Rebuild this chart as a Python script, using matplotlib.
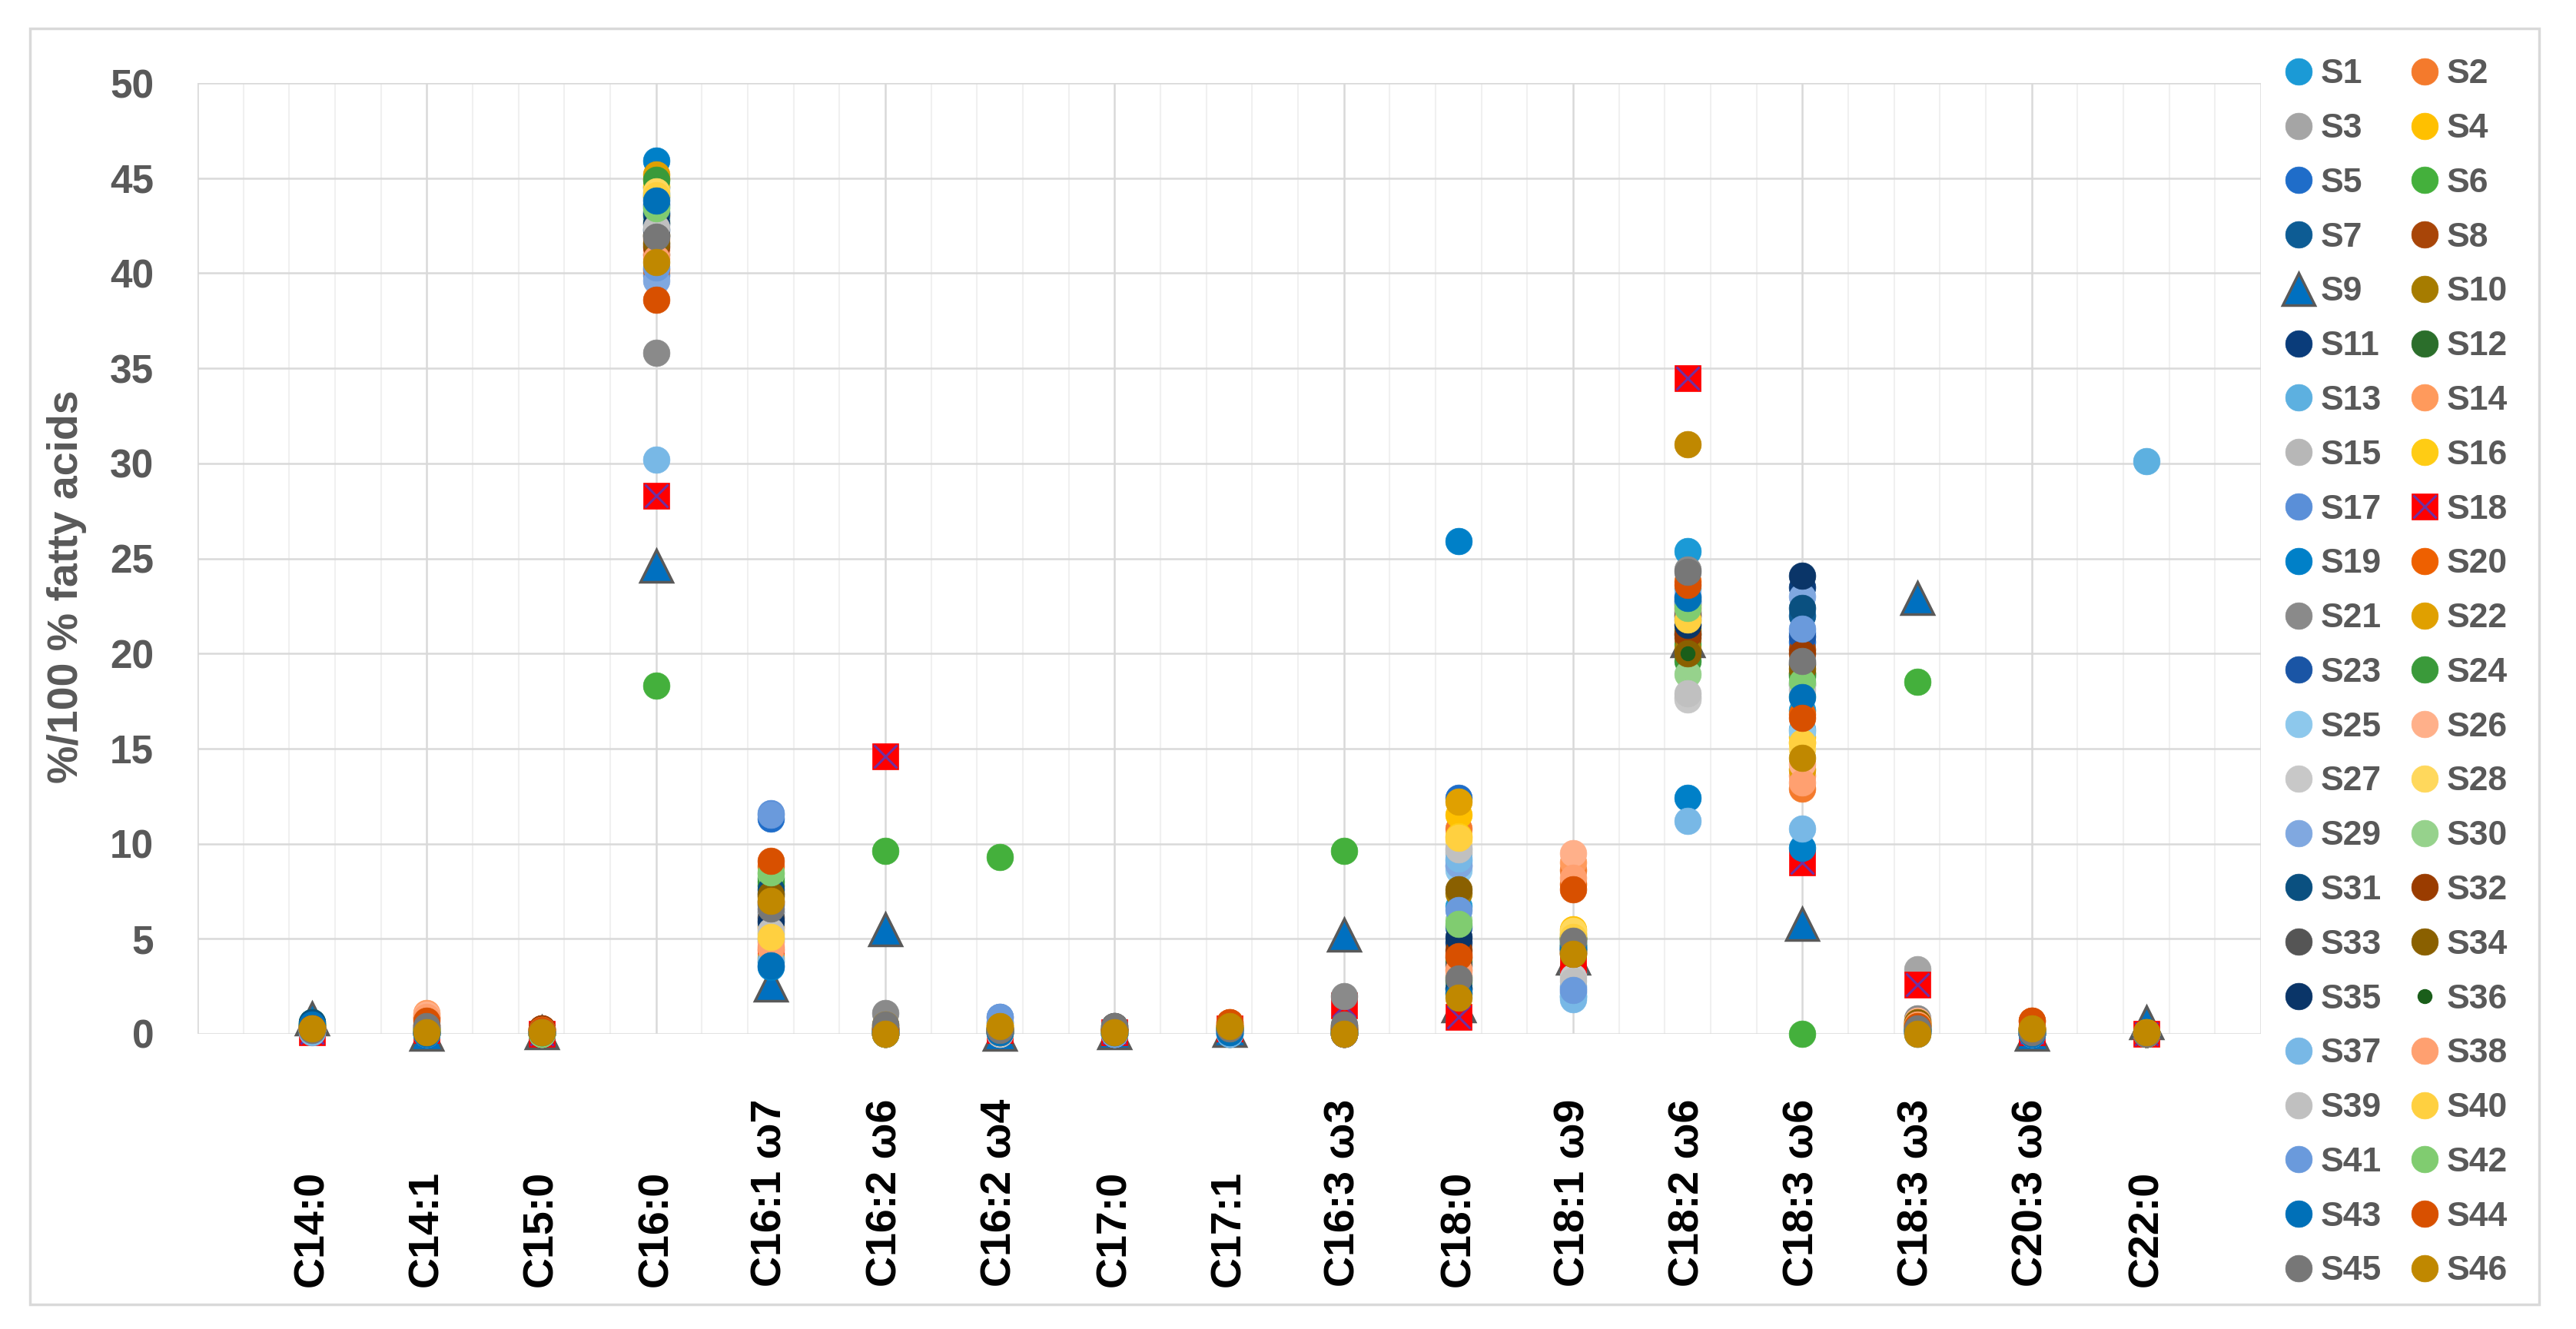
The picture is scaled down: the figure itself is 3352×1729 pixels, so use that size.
import matplotlib
matplotlib.use('Agg')
import matplotlib.pyplot as plt
import matplotlib.patches as mpatches
from matplotlib.legend_handler import HandlerTuple
import numpy as np

plt.rcParams['font.family'] = ['Liberation Sans', 'DejaVu Sans']

categories = ['C14:0', 'C14:1', 'C15:0', 'C16:0', 'C16:1 ω7', 'C16:2 ω6', 'C16:2 ω4',
              'C17:0', 'C17:1', 'C16:3 ω3', 'C18:0', 'C18:1 ω9', 'C18:2 ω6',
              'C18:3 ω6', 'C18:3 ω3', 'C20:3 ω6', 'C22:0']

series_names = ['S%d' % i for i in range(1, 47)]

# one list per fatty acid, values for S1..S46 (10 per row)
c14_0 = [0.2, 0.3, 0.4, 0.2, 0.3, 0.5, 0.4, 0.3, 0.8, 0.2,
         0.3, 0.5, 0.2, 0.4, 0.3, 0.2, 0.3, 0.1, 0.2, 0.4,
         0.3, 0.2, 0.3, 0.6, 0.2, 0.4, 0.3, 0.2, 0.3, 0.5,
         0.6, 0.3, 0.2, 0.4, 0.3, 0.2, 0.1, 0.3, 0.2, 0.3,
         0.2, 0.4, 0.5, 0.3, 0.2, 0.3]
c14_1 = [0.1, 0.9, 0.3, 0.2, 0.0, 0.1, 0.2, 0.4, 0.0, 0.2,
         0.1, 0.3, 0.0, 1.1, 0.2, 0.1, 0.0, 0.2, 0.0, 0.8,
         0.4, 0.3, 0.1, 0.2, 0.0, 1.0, 0.2, 0.3, 0.1, 0.2,
         0.0, 0.5, 0.3, 0.2, 0.1, 0.0, 0.0, 0.9, 0.2, 0.3,
         0.1, 0.2, 0.0, 0.7, 0.4, 0.1]
c15_0 = [0.1, 0.2, 0.1, 0.0, 0.1, 0.0, 0.1, 0.3, 0.1, 0.2,
         0.0, 0.1, 0.1, 0.2, 0.0, 0.1, 0.0, 0.0, 0.1, 0.2,
         0.1, 0.0, 0.1, 0.0, 0.1, 0.2, 0.0, 0.1, 0.0, 0.1,
         0.0, 0.3, 0.1, 0.2, 0.0, 0.1, 0.0, 0.2, 0.1, 0.0,
         0.1, 0.0, 0.1, 0.2, 0.1, 0.1]
c16_0 = [44.2, 43.0, 41.5, 45.0, 44.5, 18.3, 43.2, 41.0, 24.6, 42.0,
         42.3, 44.0, 43.5, 41.8, 42.8, 44.6, 39.9, 28.3, 45.9, 40.2,
         35.8, 45.2, 43.6, 44.9, 42.9, 41.2, 43.9, 44.3, 39.6, 42.7,
         43.1, 41.4, 42.0, 41.6, 42.6, 43.0, 30.2, 40.8, 42.4, 44.1,
         40.3, 43.4, 43.8, 38.6, 41.9, 40.6]
c16_1w7 = [3.8, 4.4, 6.0, 5.0, 11.3, 8.2, 6.8, 5.6, 2.6, 7.2,
           6.4, 7.8, 4.9, 4.6, 5.8, 5.3, 11.6, 4.2, 3.5, 8.8,
           6.2, 4.0, 7.4, 8.0, 5.2, 4.8, 6.5, 5.5, 7.0, 8.4,
           7.6, 6.9, 6.1, 7.3, 5.9, 6.7, 3.9, 4.5, 5.4, 5.1,
           11.5, 8.5, 3.6, 9.1, 6.6, 7.0]
c16_2w6 = [0.1, 0.2, 0.3, 0.0, 0.1, 9.6, 0.2, 0.0, 5.5, 0.3,
           0.0, 0.1, 0.2, 0.0, 0.3, 0.1, 0.0, 14.6, 0.2, 0.0,
           1.1, 0.5, 0.0, 0.2, 0.1, 0.0, 0.3, 0.2, 0.0, 0.1,
           0.2, 0.0, 0.4, 0.3, 0.1, 0.0, 0.2, 0.1, 0.0, 0.3,
           0.2, 0.0, 0.1, 0.3, 0.5, 0.0]
c16_2w4 = [0.3, 0.2, 0.1, 0.4, 0.6, 9.3, 0.2, 0.1, 0.0, 0.3,
           0.2, 0.1, 0.3, 0.2, 0.0, 0.4, 0.9, 0.2, 0.1, 0.3,
           0.2, 0.5, 0.1, 0.2, 0.3, 0.1, 0.0, 0.4, 0.6, 0.2,
           0.1, 0.2, 0.3, 0.1, 0.2, 0.0, 0.3, 0.2, 0.1, 0.4,
           0.9, 0.2, 0.1, 0.3, 0.2, 0.4]
c17_0 = [0.1, 0.2, 0.3, 0.1, 0.0, 0.2, 0.1, 0.2, 0.1, 0.3,
         0.1, 0.2, 0.0, 0.2, 0.1, 0.1, 0.0, 0.1, 0.0, 0.2,
         0.4, 0.1, 0.0, 0.2, 0.0, 0.1, 0.2, 0.1, 0.0, 0.1,
         0.2, 0.3, 0.4, 0.2, 0.1, 0.0, 0.0, 0.2, 0.1, 0.1,
         0.0, 0.1, 0.1, 0.2, 0.4, 0.1]
c17_1 = [0.0, 0.5, 0.3, 0.2, 0.1, 0.3, 0.2, 0.4, 0.2, 0.3,
         0.2, 0.3, 0.0, 0.5, 0.2, 0.3, 0.1, 0.3, 0.0, 0.6,
         0.3, 0.4, 0.2, 0.3, 0.1, 0.5, 0.2, 0.4, 0.1, 0.3,
         0.2, 0.4, 0.3, 0.4, 0.2, 0.3, 0.0, 0.5, 0.2, 0.4,
         0.1, 0.3, 0.1, 0.6, 0.3, 0.4]
c16_3w3 = [0.1, 0.2, 0.4, 0.1, 0.0, 9.6, 0.1, 0.2, 5.2, 0.3,
           0.0, 0.1, 0.2, 0.0, 0.3, 0.1, 0.0, 1.5, 0.1, 0.2,
           2.0, 0.4, 0.0, 0.1, 0.2, 0.0, 0.3, 0.1, 0.0, 0.2,
           0.1, 0.0, 0.4, 0.3, 0.0, 0.1, 0.2, 0.0, 0.3, 0.2,
           0.0, 0.1, 0.2, 0.3, 0.5, 0.0]
c18_0 = [6.7, 10.8, 9.5, 11.5, 12.4, 3.0, 2.4, 4.0, 1.5, 7.4,
         4.8, 2.8, 9.1, 3.3, 9.8, 10.4, 8.8, 0.9, 25.9, 4.2,
         2.2, 12.2, 5.6, 3.8, 8.6, 3.1, 9.6, 10.2, 8.9, 6.0,
         2.4, 4.4, 3.6, 7.6, 5.1, 2.6, 9.2, 3.4, 9.7, 10.3,
         6.5, 5.8, 2.1, 4.1, 2.9, 1.9]
c18_1w9 = [4.5, 8.6, 3.5, 5.5, 4.8, 5.0, 4.6, 4.3, 4.0, 4.4,
           4.7, 5.0, 2.5, 9.0, 3.2, 5.3, 2.2, 3.9, 2.0, 7.9,
           4.9, 5.2, 4.5, 5.1, 2.0, 9.5, 3.0, 5.4, 2.4, 4.8,
           4.6, 4.2, 5.0, 4.3, 4.4, 4.9, 1.8, 8.2, 2.8, 5.1,
           2.3, 4.7, 4.5, 7.6, 4.9, 4.2]
c18_2w6 = [25.4, 22.0, 21.5, 22.6, 23.0, 20.5, 21.2, 20.8, 20.7, 20.2,
           22.2, 21.0, 23.4, 22.1, 17.7, 22.5, 21.8, 34.5, 12.4, 23.8,
           24.4, 21.3, 22.7, 19.6, 21.9, 22.3, 17.6, 21.7, 23.1, 18.9,
           22.8, 21.0, 22.0, 20.0, 21.5, 20.0, 11.2, 22.4, 17.9, 21.8,
           22.6, 22.4, 22.9, 23.6, 24.3, 31.0]
c18_3w6 = [17.0, 12.9, 18.4, 15.6, 20.6, 0.0, 22.0, 20.2, 5.8, 19.0,
           23.5, 18.9, 16.0, 13.6, 18.4, 15.3, 21.1, 9.0, 9.8, 16.8,
           19.4, 13.9, 20.9, 18.8, 15.9, 14.2, 18.3, 15.0, 23.0, 17.8,
           22.4, 20.0, 19.5, 19.2, 24.1, 18.6, 10.8, 13.2, 18.1, 15.3,
           21.3, 18.5, 17.7, 16.6, 19.6, 14.5]
c18_3w3 = [0.2, 0.4, 3.4, 0.5, 0.1, 18.5, 0.3, 0.6, 22.9, 0.7,
           0.2, 0.4, 0.1, 0.5, 0.3, 0.6, 0.2, 2.6, 0.1, 0.4,
           0.8, 0.5, 0.3, 0.2, 0.0, 0.7, 0.4, 0.6, 0.2, 0.3,
           0.1, 0.5, 0.4, 0.6, 0.2, 0.3, 0.0, 0.5, 0.2, 0.4,
           0.1, 0.3, 0.2, 0.4, 0.3, 0.0]
c20_3w6 = [0.1, 0.3, 0.2, 0.1, 0.0, 0.2, 0.1, 0.3, 0.0, 0.2,
           0.1, 0.2, 0.0, 0.4, 0.1, 0.2, 0.0, 0.1, 0.0, 0.7,
           0.2, 0.3, 0.1, 0.2, 0.0, 0.4, 0.1, 0.2, 0.0, 0.1,
           0.0, 0.3, 0.2, 0.2, 0.1, 0.0, 0.0, 0.3, 0.1, 0.2,
           0.0, 0.1, 0.0, 0.7, 0.1, 0.3]
c22_0 = [0.0, 0.0, 0.0, 0.0, 0.0, 0.0, 0.0, 0.0, 0.6, 0.0,
         0.0, 0.0, 30.1, 0.0, 0.0, 0.0, 0.0, 0.0, 0.0, 0.0,
         0.0, 0.1, 0.0, 0.0, 0.0, 0.0, 0.0, 0.0, 0.0, 0.0,
         0.0, 0.0, 0.0, 0.0, 0.0, 0.0, 0.0, 0.0, 0.0, 0.0,
         0.0, 0.0, 0.0, 0.0, 0.0, 0.1]

colors = ['#1B9AD6', '#F47A2C', '#A5A5A5', '#FFC000', '#1F6DC9', '#44B03C',
          '#0D5C94', '#A84508', '#0070C0', '#A67C00', '#0A3C7A', '#2B6E2B',
          '#5DB0E0', '#FF9A5C', '#B7B7B7', '#FFCC14', '#5A8FD8', '#FF0000',
          '#0080C8', '#EE6000', '#8A8A8A', '#E0A000', '#1A55A5', '#3A9A3A',
          '#8DC8EC', '#FFB08A', '#C8C8C8', '#FFD85C', '#80A8E0', '#96D28C',
          '#0A5080', '#9A3C00', '#555555', '#8A6000', '#0A3568', '#1A5E1A',
          '#78B8E6', '#FFA070', '#C0C0C0', '#FFD040', '#6A9ADC', '#80CC70',
          '#0070B8', '#D85000', '#777777', '#C08800']

values = np.array([c14_0, c14_1, c15_0, c16_0, c16_1w7, c16_2w6, c16_2w4,
                   c17_0, c17_1, c16_3w3, c18_0, c18_1w9, c18_2w6,
                   c18_3w6, c18_3w3, c20_3w6, c22_0])
x = np.arange(1, len(categories) + 1)

fig = plt.figure(figsize=(33.52, 17.29), dpi=100)
ax = fig.add_axes([0.0767, 0.2221, 0.8010, 0.7154])

handles = []
for i, name in enumerate(series_names):
    y = values[:, i]
    if name == 'S9':
        h, = ax.plot(x, y, linestyle='none', marker='^', markersize=30,
                     markerfacecolor=colors[i], markeredgecolor='#595959',
                     markeredgewidth=2.5, clip_on=False, zorder=3)
    elif name == 'S18':
        h1, = ax.plot(x, y, linestyle='none', marker='s', markersize=24,
                      markerfacecolor='#FF0000', markeredgecolor='#FF0000',
                      markeredgewidth=0.5, clip_on=False, zorder=3)
        h2, = ax.plot(x, y, linestyle='none', marker='x', markersize=22,
                      markeredgecolor='#7030A0', markeredgewidth=2.2,
                      clip_on=False, zorder=3)
        h = (h1, h2)
    elif name == 'S36':
        h, = ax.plot(x, y, linestyle='none', marker='o', markersize=13,
                     markerfacecolor=colors[i], markeredgecolor=colors[i],
                     clip_on=False, zorder=3)
    else:
        h, = ax.plot(x, y, linestyle='none', marker='o', markersize=25,
                     markerfacecolor=colors[i], markeredgecolor=colors[i],
                     markeredgewidth=0.5, clip_on=False, zorder=3)
    handles.append(h)

ax.set_xlim(0, 18)
ax.set_ylim(0, 50)
ax.set_xticks(np.arange(0, 18.01, 2))
ax.set_xticks(np.arange(0, 18.01, 0.4), minor=True)
ax.set_yticks(np.arange(0, 50.01, 5))
ax.set_xticklabels([])
ax.grid(True, which='major', color='#D9D9D9', linewidth=1.8, zorder=0)
ax.grid(True, which='minor', axis='x', color='#F0F0F0', linewidth=1.5, zorder=0)
ax.set_axisbelow(True)
for s in ax.spines.values():
    s.set_visible(False)
ax.tick_params(axis='both', which='both', length=0)
ax.tick_params(axis='y', pad=41, labelsize=37, labelcolor='#595959')
for lab in ax.get_yticklabels():
    lab.set_fontweight('bold')

ax.set_ylabel('%/100 % fatty acids', fontsize=40, fontweight='bold',
              color='#595959', va='center')
ax.yaxis.set_label_coords(-0.0633, 0.47)

# category labels, bottom-aligned, read upward
trans = matplotlib.transforms.blended_transform_factory(ax.transData, fig.transFigure)
for xi, cat in zip(x, categories):
    ax.text(xi, 1 - 1674 / 1729, cat, transform=trans, rotation=90,
            ha='center', va='bottom', fontsize=40, fontweight='bold', color='black')

# legend filled row-wise like the original (S1 S2 / S3 S4 ...)
order = list(range(0, 46, 2)) + list(range(1, 46, 2))
leg = fig.legend([handles[k] for k in order], [series_names[k] for k in order],
                 ncol=2, loc='upper left', bbox_to_anchor=(0.875, 0.979),
                 frameon=False, handlelength=0.8, handletextpad=0.25,
                 columnspacing=0.86, labelspacing=0.67, borderpad=0.4,
                 prop={'size': 32, 'weight': 'bold'},
                 handler_map={tuple: HandlerTuple(ndivide=1)})
for t in leg.get_texts():
    t.set_color('#595959')

# outer chart border
fig.patches.append(mpatches.Rectangle((39 / 3352, 1 - 1697 / 1729),
                                      (3304 - 39) / 3352, (1697 - 37) / 1729,
                                      transform=fig.transFigure, fill=False,
                                      edgecolor='#D9D9D9', linewidth=2.5))

fig.savefig('out.png', dpi=100, facecolor='white')
